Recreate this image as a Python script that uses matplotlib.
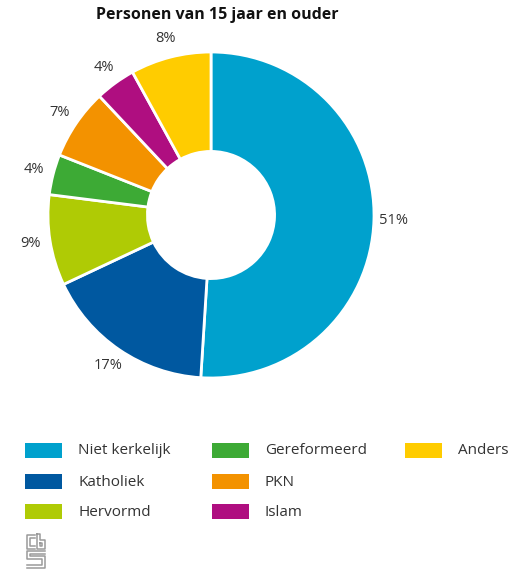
import matplotlib.pyplot as plt
from matplotlib.patches import Rectangle

# Gegevens
categories = ["Niet kerkelijk", "Katholiek", "Hervormd", "Gereformeerd", "PKN", "Islam", "Anders"]
shares = [51, 17, 9, 4, 7, 4, 8]
colors = ["#00a1cd", "#0058a0", "#afcb05", "#3daa35", "#f39200", "#af0e80", "#ffcc00"]
title = "Personen van 15 jaar en ouder"

plt.rcParams['font.family'] = ['Open Sans', 'DejaVu Sans']

W, H = 528, 573
fig = plt.figure(figsize=(W / 100, H / 100), dpi=100)

# donut
ax = fig.add_axes([48 / W, 1 - 378 / H, 326 / W, 326 / H])
wedges, texts, autotexts = ax.pie(
    shares, colors=colors, startangle=90, counterclock=False,
    radius=1, autopct=lambda p: f"{p:.0f}%", pctdistance=1.12,
    wedgeprops=dict(width=0.61, edgecolor="white", linewidth=2),
)
for t in autotexts:
    t.set_fontsize(10.5)
    t.set_color("#333333")
ax.set_xlim(-1, 1)
ax.set_ylim(-1, 1)
ax.set_aspect("equal")
ax.axis("off")

fig.text(217 / W, 1 - 15 / H, title, ha="center", va="center",
         fontsize=11.5, fontweight="bold", color="#111111")

# legenda: kolomsgewijs, 3 per kolom
lax = fig.add_axes([0, 0, 1, 1])
lax.set_xlim(0, W)
lax.set_ylim(H, 0)
lax.axis("off")
col_x = [25, 212, 405]
row_y = [450, 481, 511]
for i, (name, c) in enumerate(zip(categories, colors)):
    x = col_x[i // 3]
    y = row_y[i % 3]
    lax.add_patch(Rectangle((x, y - 7.5), 37, 15, facecolor=c, edgecolor="none"))
    lax.text(x + 53, y + 1, name, ha="left", va="center", fontsize=11, color="#333333")

# cbs-logo (schets)
g = "#9a9a9a"
ox, oy = 27, 568
segs = [
    [(8, 33), (0, 33), (0, 19), (8, 19)], [(8, 30), (3, 30), (3, 22), (8, 22)],
    [(10, 34), (10, 19), (18, 19), (18, 28), (13, 28), (13, 34), (10, 34)],
    [(13, 25), (15, 25), (15, 22), (13, 22), (13, 25)],
    [(18, 17), (0, 17), (0, 9), (15, 9), (15, 3), (0, 3)],
    [(18, 14), (3, 14), (3, 12), (18, 12), (18, 0), (0, 0)],
]
for s in segs:
    xs = [ox + p[0] for p in s]
    ys = [oy - p[1] for p in s]
    lax.plot(xs, ys, color=g, linewidth=1.1)

fig.savefig("out.png", dpi=100)
